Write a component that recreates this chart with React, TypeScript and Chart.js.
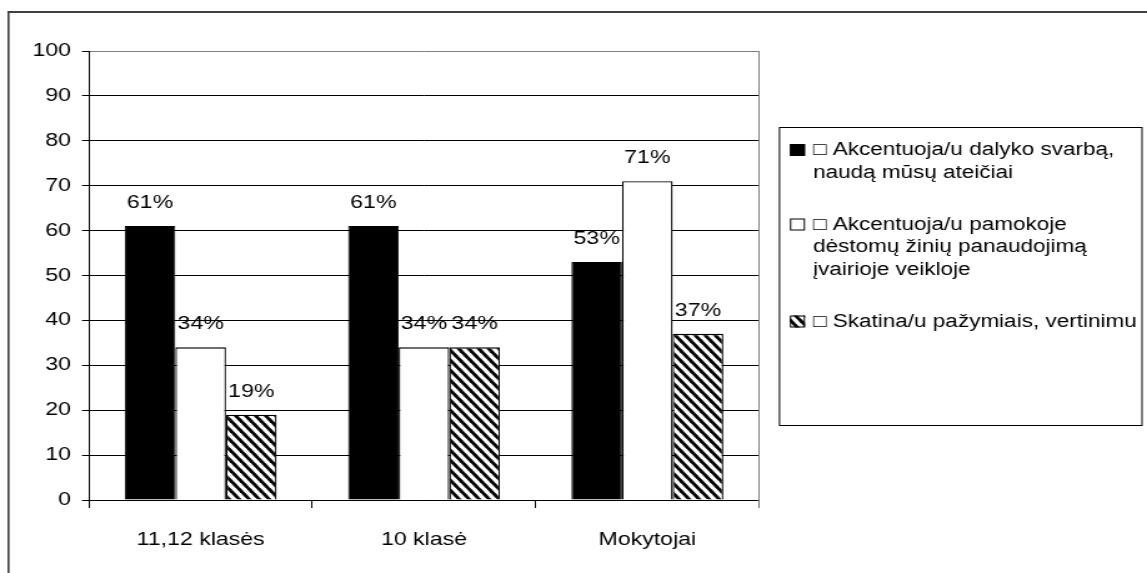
import React, { useEffect, useRef } from "react";
import { Chart, registerables } from "chart.js";

Chart.register(...registerables);

// ---- data ----
const categories = ["11,12 klasės", "10 klasė", "Mokytojai"];
const seriesImportance = [61, 61, 53];
const seriesApplication = [34, 34, 71];
const seriesGrades = [19, 34, 37];
const legendImportance = ["□ Akcentuoja/u dalyko svarbą,", "naudą mūsų ateičiai"];
const legendApplication = ["□ Akcentuoja/u pamokoje", "dėstomų žinių panaudojimą", "įvairioje veikloje"];
const legendGrades = ["□ Skatina/u pažymiais, vertinimu"];
const yMin = 0;
const yMax = 100;
const yStep = 10;

// ---- layout ----
const PAGE_W = 1147;
const PAGE_H = 573;
const CANVAS_W = 918; // drawn narrow, stretched horizontally like the original
const SX = PAGE_W / CANVAS_W;
const FONT = '"Liberation Sans", Arial, Helvetica, sans-serif';
const FONT_SIZE = 18.5;
const LEGEND_FONT_SIZE = 18;
const HATCH = 10;

function makeHatch(): CanvasPattern | string {
  const t = document.createElement("canvas");
  t.width = HATCH;
  t.height = HATCH;
  const c = t.getContext("2d");
  if (!c) return "#888";
  c.fillStyle = "#ffffff";
  c.fillRect(0, 0, HATCH, HATCH);
  c.strokeStyle = "#000000";
  c.lineWidth = 3.3;
  for (let k = -1; k <= 1; k++) {
    c.beginPath();
    c.moveTo(-2, -2 + HATCH * k);
    c.lineTo(HATCH + 2, HATCH + 2 + HATCH * k);
    c.stroke();
  }
  const main = document.createElement("canvas").getContext("2d");
  const p = main ? main.createPattern(t, "repeat") : null;
  if (!p) return "#888";
  try {
    p.setTransform(new DOMMatrix([1 / SX, 0, 0, 1, 0, 0]));
  } catch (e) {
    /* ignore */
  }
  return p;
}

export default function App() {
  const ref = useRef<HTMLCanvasElement | null>(null);

  useEffect(() => {
    const canvas = ref.current;
    if (!canvas) return;
    const hatch = makeHatch();
    const legendItems = [
      { lines: legendImportance, fill: "#000000" as any },
      { lines: legendApplication, fill: "#ffffff" as any },
      { lines: legendGrades, fill: hatch as any },
    ];

    const decor = {
      id: "decor",
      afterDraw(chart: any) {
        const ctx = chart.ctx as CanvasRenderingContext2D;
        const ca = chart.chartArea;
        ctx.save();
        // outer chart border (top + left visible)
        ctx.strokeStyle = "#404040";
        ctx.lineWidth = 1.6;
        ctx.beginPath();
        ctx.moveTo(8.5 / SX, chart.height + 5);
        ctx.lineTo(8.5 / SX, 12);
        ctx.stroke();
        ctx.lineWidth = 2;
        ctx.beginPath();
        ctx.moveTo(8.5 / SX - 0.8, 12);
        ctx.lineTo(chart.width + 5, 12);
        ctx.stroke();

        // right plot border (gray)
        ctx.strokeStyle = "#808080";
        ctx.lineWidth = 1;
        ctx.beginPath();
        ctx.moveTo(ca.right, ca.top);
        ctx.lineTo(ca.right, ca.bottom + 8);
        ctx.stroke();

        // data labels
        ctx.fillStyle = "#000000";
        ctx.font = `${FONT_SIZE}px ${FONT}`;
        ctx.textAlign = "center";
        ctx.textBaseline = "alphabetic";
        chart.data.datasets.forEach((ds: any, di: number) => {
          const meta = chart.getDatasetMeta(di);
          meta.data.forEach((bar: any, i: number) => {
            ctx.fillText(`${ds.data[i]}%`, bar.x, bar.y - 18);
          });
        });

        // legend box
        const lx = 779.5 / SX;
        const lr = 1142 / SX;
        ctx.strokeStyle = "#000000";
        ctx.lineWidth = 1;
        ctx.strokeRect(lx, 127.5, lr - lx, 298);

        ctx.font = `${LEGEND_FONT_SIZE}px ${FONT}`;
        ctx.textAlign = "left";
        let base = 155;
        const lineH = 22.5;
        legendItems.forEach((it) => {
          const mx = 790 / SX;
          ctx.fillStyle = it.fill;
          ctx.fillRect(mx, base - 11, 12, 12);
          ctx.strokeStyle = "#000000";
          ctx.lineWidth = 1;
          ctx.strokeRect(mx + 0.5, base - 10.5, 11, 11);
          ctx.fillStyle = "#000000";
          it.lines.forEach((ln: string, j: number) => {
            ctx.fillText(ln, 813 / SX, base + j * lineH);
          });
          base = base + (it.lines.length - 1) * lineH + 52;
        });
        ctx.restore();
      },
    };

    const chart = new Chart(canvas, {
      type: "bar",
      data: {
        labels: categories,
        datasets: [
          {
            label: legendImportance.join(" "),
            data: seriesImportance,
            backgroundColor: "#000000",
            borderColor: "#000000",
            borderWidth: 1,
          },
          {
            label: legendApplication.join(" "),
            data: seriesApplication,
            backgroundColor: "#ffffff",
            borderColor: "#000000",
            borderWidth: 1.3,
          },
          {
            label: legendGrades.join(" "),
            data: seriesGrades,
            backgroundColor: hatch as any,
            borderColor: "#000000",
            borderWidth: 1.3,
          },
        ],
      },
      options: {
        responsive: false,
        animation: false,
        devicePixelRatio: 1,
        events: [],
        layout: { padding: { left: 0, top: 51, right: CANVAS_W - 759 / SX, bottom: 0 } },
        datasets: { bar: { barPercentage: 1, categoryPercentage: 0.68 } },
        plugins: {
          legend: { display: false },
          tooltip: { enabled: false },
          title: { display: false },
        },
        scales: {
          x: {
            offset: true,
            grid: {
              display: true,
              drawOnChartArea: false,
              drawTicks: true,
              tickLength: 8,
              color: "#000000",
              tickColor: "#000000",
              offset: true,
            },
            border: { display: true, color: "#000000", width: 1 },
            ticks: {
              color: "#000000",
              font: { family: FONT, size: FONT_SIZE },
              padding: 21,
              maxRotation: 0,
              autoSkip: false,
            },
            afterFit(scale: any) {
              scale.height = PAGE_H - 500;
            },
          },
          y: {
            min: yMin,
            max: yMax,
            grid: {
              color: (c: any) => (c.tick && c.tick.value === yMax ? "#808080" : "#000000"),
              tickColor: "#000000",
              tickLength: 7 / SX,
              lineWidth: 1,
            },
            border: { display: true, color: "#000000", width: 1 },
            ticks: {
              stepSize: yStep,
              color: "#000000",
              font: { family: FONT, size: FONT_SIZE },
              padding: 11 / SX,
            },
            afterFit(scale: any) {
              scale.width = 89 / SX;
            },
          },
        },
      },
      plugins: [decor],
    });
    return () => chart.destroy();
  }, []);

  return (
    <div style={{ position: "fixed", left: 0, top: 0, width: PAGE_W, height: PAGE_H, background: "#fff" }}>
      <canvas
        ref={ref}
        width={CANVAS_W}
        height={PAGE_H}
        style={{ width: PAGE_W + "px", height: PAGE_H + "px", display: "block" }}
      />
    </div>
  );
}
